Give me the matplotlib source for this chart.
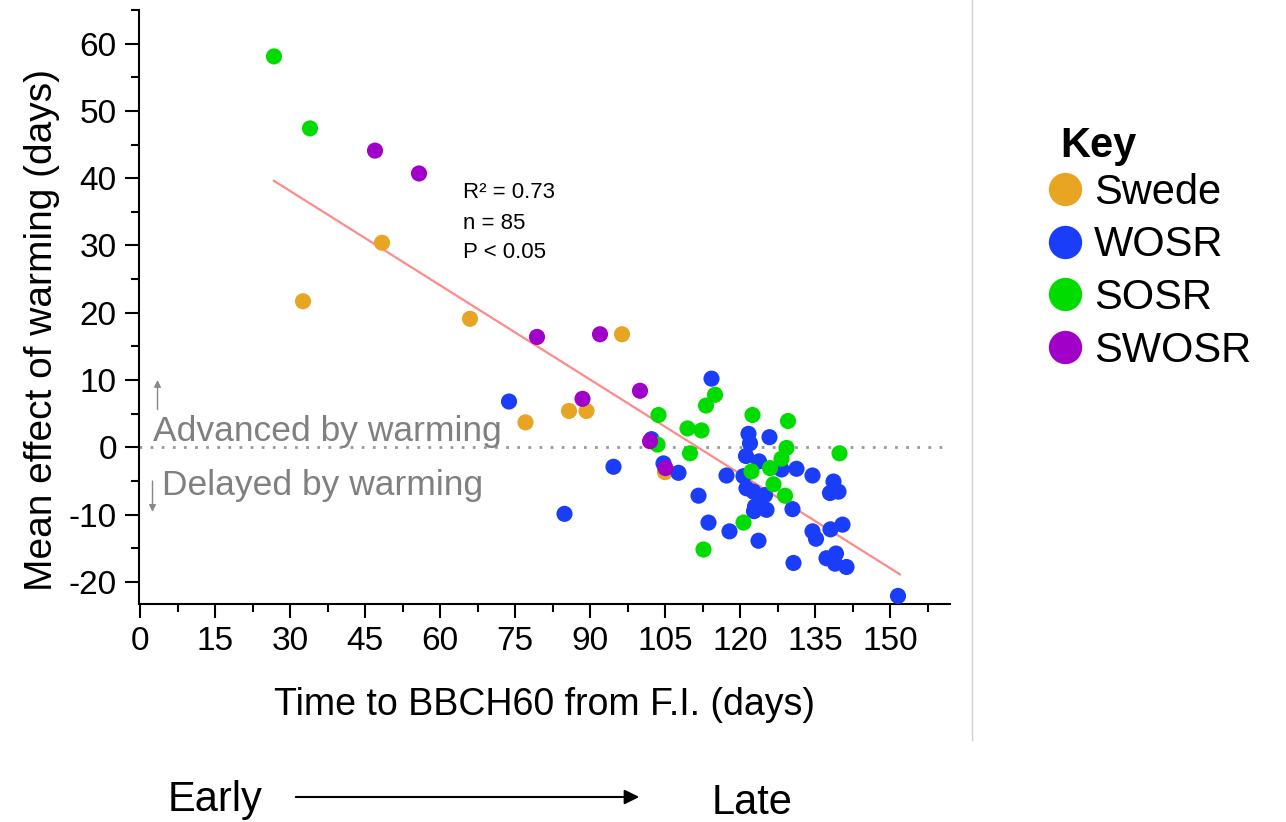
import matplotlib
matplotlib.use('Agg')
import matplotlib.pyplot as plt
from matplotlib.lines import Line2D
from matplotlib.patches import FancyArrowPatch
from matplotlib.ticker import MultipleLocator

plt.rcParams['font.family'] = ['Liberation Sans', 'DejaVu Sans']
plt.rcParams['axes.unicode_minus'] = False

# data
swede_x = [32.6, 48.4, 66.0, 77.1, 85.8, 89.3, 96.4, 105.0]
swede_y = [21.7, 30.4, 19.1, 3.7, 5.4, 5.4, 16.8, -3.7]

wosr_x = [73.8, 84.9, 151.6, 114.3, 121.7, 125.9, 102.3, 122.0, 121.2, 94.7,
          104.7, 107.7, 123.8, 128.3, 131.3, 117.3, 120.7, 134.5, 138.7, 121.3,
          122.7, 138.0, 139.7, 125.0, 111.7, 124.0, 123.0, 125.3, 122.8, 130.5,
          113.7, 117.9, 134.5, 135.2, 123.7, 138.1, 140.5, 130.7, 137.3, 139.2,
          139.0, 141.3]
wosr_y = [6.8, -9.9, -22.1, 10.2, 2.0, 1.5, 1.2, 0.6, -1.3, -2.9,
          -2.4, -3.8, -2.1, -3.3, -3.2, -4.2, -4.3, -4.2, -5.1, -6.1,
          -6.6, -6.8, -6.6, -7.1, -7.2, -8.3, -8.8, -9.3, -9.5, -9.2,
          -11.2, -12.5, -12.5, -13.6, -13.9, -12.2, -11.5, -17.2, -16.5, -15.8,
          -17.3, -17.8]

sosr_x = [26.8, 34.0, 115.0, 113.2, 103.7, 122.5, 129.6, 109.5, 112.3, 103.5,
          129.3, 139.9, 110.0, 128.3, 126.0, 122.3, 126.7, 129.0, 120.7, 112.7]
sosr_y = [58.1, 47.4, 7.8, 6.2, 4.8, 4.8, 3.9, 2.8, 2.5, 0.4,
          -0.1, -0.9, -0.9, -1.7, -3.1, -3.6, -5.5, -7.2, -11.2, -15.2]

swosr_x = [47.0, 55.8, 79.4, 92.0, 100.0, 88.5, 102.0, 105.1]
swosr_y = [44.1, 40.7, 16.4, 16.8, 8.4, 7.2, 0.9, -3.1]

# regression line end points
fit_x = [26.8, 152.0]
fit_y = [39.6, -18.9]

stats = ['R\u00b2 = 0.73', 'n = 85', 'P < 0.05']

groups = ['Swede', 'WOSR', 'SOSR', 'SWOSR']
colors = ['#e8a524', '#1a3dfa', '#00dc00', '#a100c8']
xs = [swede_x, wosr_x, sosr_x, swosr_x]
ys = [swede_y, wosr_y, sosr_y, swosr_y]

W, H = 1286, 822
fig = plt.figure(figsize=(12.86, 8.22), dpi=100)
ax = fig.add_axes([139 / W, 1 - 604 / H, (950 - 139) / W, (604 - 10) / H])

ax.axhline(0, color='#999999', ls=(0, (1, 3)), lw=2, zorder=1)
ax.plot(fit_x, fit_y, color='#ff8a8a', lw=1.6, zorder=2)

for x, y, c in zip(xs, ys, colors):
    ax.scatter(x, y, s=135, color=c, edgecolors='none', zorder=3)

ax.set_xlim(-0.2, 162)
ax.set_ylim(-23.3, 65)
ax.xaxis.set_major_locator(MultipleLocator(15))
ax.xaxis.set_minor_locator(MultipleLocator(7.5))
ax.yaxis.set_major_locator(MultipleLocator(10))
ax.yaxis.set_minor_locator(MultipleLocator(5))
for s in ['top', 'right']:
    ax.spines[s].set_visible(False)
for s in ['left', 'bottom']:
    ax.spines[s].set_linewidth(1.5)
ax.tick_params(which='major', length=10, width=1.5, labelsize=24, pad=6)
ax.tick_params(which='minor', length=6, width=1.5)

ax.set_xlabel('Time to BBCH60 from F.I. (days)', fontsize=27)
ax.xaxis.set_label_coords(0.5, -0.14)
ax.set_ylabel('Mean effect of warming (days)', fontsize=28)
ax.yaxis.set_label_coords(-0.098, 0.461)

# stats
for txt, yb in zip(stats, [198, 229, 258]):
    fig.text(463 / W, 1 - yb / H, txt, fontsize=16, va='baseline', ha='left')

# advanced / delayed
ax.text(2.6, 1.0, 'Advanced by warming', fontsize=25.5, color='#808080', va='baseline')
ax.text(4.4, -7.1, 'Delayed by warming', fontsize=25.5, color='#808080', va='baseline')
ax.annotate('', xy=(3.5, 10.4), xytext=(3.5, 5.2),
            arrowprops=dict(arrowstyle='-|>', color='#888888', lw=1, mutation_scale=10))
ax.annotate('', xy=(2.5, -10.0), xytext=(2.5, -4.6),
            arrowprops=dict(arrowstyle='-|>', color='#888888', lw=1, mutation_scale=10))

# legend
fig.text(1060 / W, 1 - 146 / H, 'Key', fontsize=30, fontweight='bold', va='center', ha='left')
handles = [Line2D([], [], marker='o', ls='none', ms=24, color=c, markeredgecolor='none')
           for c in colors]
fig.legend(handles, groups, loc='upper left', bbox_to_anchor=(1040 / W, 1 - 173 / H),
           frameon=False, fontsize=30, handletextpad=0.1, labelspacing=0.3,
           borderpad=0, borderaxespad=0, handlelength=1.2)

# divider
fig.add_artist(Line2D([972 / W] * 2, [1, 1 - 740 / H], color='#d0d0d0', lw=1))

# early / late
fig.text(168 / W, 1 - 800 / H, 'Early', fontsize=30, va='center')
fig.text(712 / W, 1 - 803 / H, 'Late', fontsize=30, va='center')
fig.add_artist(FancyArrowPatch((293 / W, 1 - 797 / H), (642 / W, 1 - 797 / H),
               transform=fig.transFigure, arrowstyle='-|>', mutation_scale=22, lw=1.5, color='black'))

fig.savefig('out.png', dpi=100)
